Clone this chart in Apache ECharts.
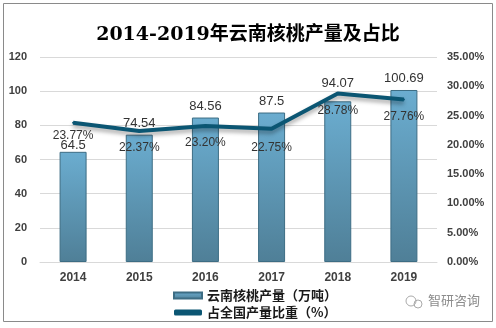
<!DOCTYPE html>
<html><head><meta charset="utf-8">
<script src="https://cdn.jsdelivr.net/npm/echarts@6/dist/echarts.min.js"></script>
<style>html,body{margin:0;padding:0;background:#fff}#c{width:496px;height:328px}</style>
</head><body><div id="c"></div>
<script>
const categories = ['2014','2015','2016','2017','2018','2019'];
const production = [64.5, 74.54, 84.56, 87.5, 94.07, 100.69];
const share = [23.77, 22.37, 23.20, 22.75, 28.78, 27.76];
const leftTicks = [0, 20, 40, 60, 80, 100, 120];
const rightTicks = ['0.00%','5.00%','10.00%','15.00%','20.00%','25.00%','30.00%','35.00%'];
const barName = '云南核桃产量（万吨）';
const lineName = '占全国产量比重（%）';

// label placement tweaks (presentation only)
const barLabelDist = [0, 5, 5, 5, 11, 5];
const lineLabelDist = [6, 10, 10, 12, 10, 10];

const chart = echarts.init(document.getElementById('c'));
chart.setOption({
  animation: false,
  backgroundColor: '#fff',
  title: {
    text: '2014-2019年云南核桃产量及占比',
    left: 'center', top: 21,
    textStyle: {fontFamily: 'DejaVu Serif, Noto Sans CJK SC', fontWeight: 'bold', fontSize: 19, color: '#000'}
  },
  graphic: [
    {type: 'rect', shape: {x: 3.5, y: 3.5, width: 489, height: 318}, style: {fill: 'none', stroke: '#8a8a8a', lineWidth: 1}, silent: true},
    {type: 'circle', shape: {cx: 411, cy: 301, r: 5}, style: {fill: 'none', stroke: '#aaa', lineWidth: 1}},
    {type: 'circle', shape: {cx: 418, cy: 304, r: 4}, style: {fill: 'none', stroke: '#aaa', lineWidth: 1}},
    {type: 'text', left: 428, top: 294, style: {text: '智研咨询', fill: '#8c8c8c', font: '13px "Noto Sans CJK SC"'}}
  ],
  grid: {left: 40, right: 59, top: 57, bottom: 66},
  legend: {
    orient: 'vertical', left: 168, top: 284, itemGap: 4, itemWidth: 28, itemHeight: 6,
    textStyle: {fontSize: 13, fontWeight: 'bold', color: '#1a1a1a', fontFamily: 'Noto Sans CJK SC'},
    data: [{name: barName, icon: 'rect'}, {name: lineName, icon: 'roundRect', itemStyle: {color: '#0b5673', opacity: 1}}]
  },
  xAxis: {
    type: 'category', data: categories,
    axisLine: {lineStyle: {color: '#d9d9d9'}}, axisTick: {show: false},
    axisLabel: {fontWeight: 'bold', fontSize: 12, color: '#404040', margin: 10}
  },
  yAxis: [
    {type: 'value', min: 0, max: 120, interval: 20,
     axisLine: {show: false}, axisTick: {show: false},
     splitLine: {lineStyle: {color: '#d9d9d9'}},
     axisLabel: {fontWeight: 'bold', fontSize: 11, color: '#404040', margin: 13,
       formatter: v => String(leftTicks[Math.round(v / 20)])}},
    {type: 'value', min: 0, max: 35, interval: 5,
     axisLine: {show: false}, axisTick: {show: false}, splitLine: {show: false},
     axisLabel: {fontWeight: 'bold', fontSize: 11, color: '#404040', margin: 10,
       formatter: v => rightTicks[Math.round(v / 5)]}}
  ],
  series: [
    {name: barName, type: 'bar', barWidth: 27,
     data: production.map((v, i) => ({value: v, label: {distance: barLabelDist[i]}})),
     itemStyle: {
       color: new echarts.graphic.LinearGradient(0, 0, 0, 1, [
         {offset: 0, color: '#6badd0'}, {offset: 1, color: '#4f7f97'}]),
       borderColor: '#3d6d84', borderWidth: 1
     },
     label: {show: true, position: 'top', fontSize: 13, color: '#333', fontFamily: 'Liberation Sans, Arial'}},
    {name: lineName, type: 'line', yAxisIndex: 1, symbol: 'circle', symbolSize: 2, showSymbol: true,
     data: share.map((v, i) => ({value: v, label: {distance: lineLabelDist[i]}})),
     lineStyle: {color: '#0b5673', width: 4, shadowColor: 'rgba(0,0,0,0.35)', shadowBlur: 4, shadowOffsetY: 3},
     itemStyle: {color: '#0b5673'},
     label: {show: true, position: 'bottom', fontSize: 12, color: '#333', fontFamily: 'Liberation Sans, Arial',
       formatter: p => p.value.toFixed(2) + '%'}}
  ]
});
</script></body></html>
